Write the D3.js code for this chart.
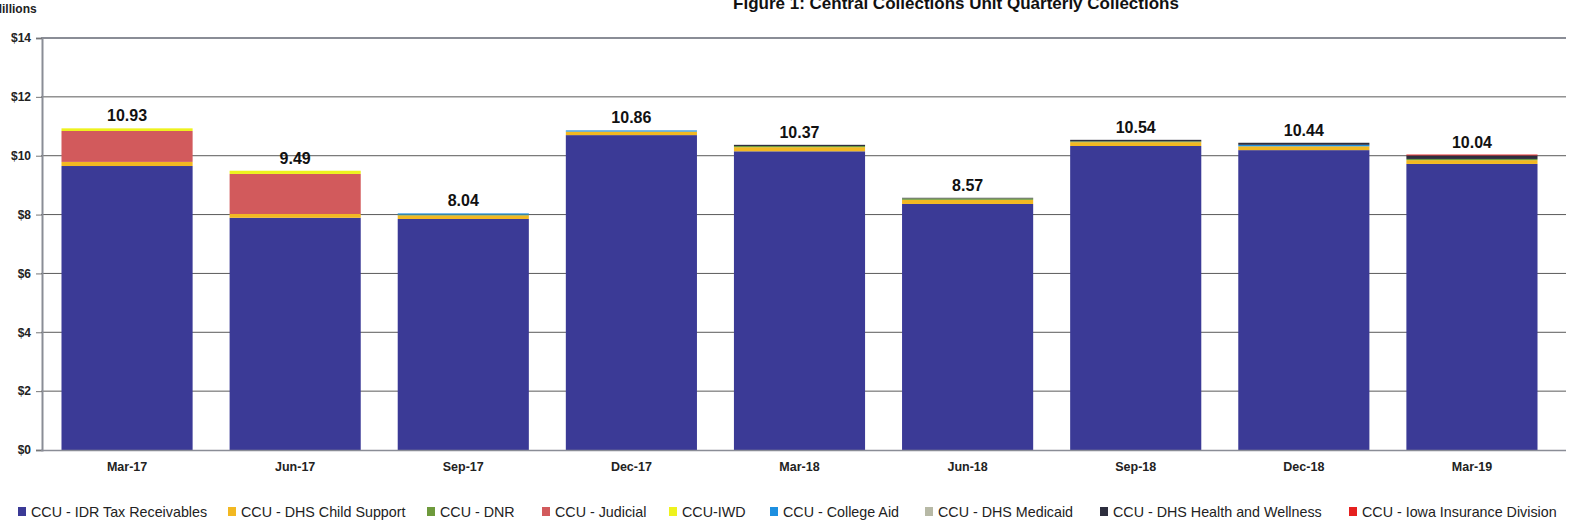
<!DOCTYPE html>
<html><head><meta charset="utf-8">
<script src="https://cdn.jsdelivr.net/npm/d3@7"></script>
<style>html,body{margin:0;padding:0;background:#fff;overflow:hidden}svg{display:block}</style>
</head><body>
<svg id="c" width="1574" height="527"></svg>
<script>
const categories = ["Mar-17","Jun-17","Sep-17","Dec-17","Mar-18","Jun-18","Sep-18","Dec-18","Mar-19"];
const seriesNames = ["CCU - IDR Tax Receivables","CCU - DHS Child Support","CCU - DNR","CCU - Judicial","CCU-IWD","CCU - College Aid","CCU - DHS Medicaid","CCU - DHS Health and Wellness","CCU - Iowa Insurance Division"];
const idrTax        = [9.65, 7.89, 7.85, 10.70, 10.15, 8.36, 10.33, 10.19, 9.72];
const childSupport  = [0.14, 0.13, 0.12, 0.12, 0.14, 0.14, 0.13, 0.13, 0.13];
const dnr           = [0.00, 0.00, 0.03, 0.00, 0.04, 0.05, 0.03, 0.00, 0.04];
const judicial      = [1.05, 1.36, 0.00, 0.00, 0.00, 0.00, 0.00, 0.00, 0.00];
const iwd           = [0.09, 0.11, 0.00, 0.00, 0.00, 0.00, 0.00, 0.00, 0.00];
const collegeAid    = [0.00, 0.00, 0.04, 0.04, 0.00, 0.00, 0.00, 0.05, 0.00];
const dhsMedicaid   = [0.00, 0.00, 0.00, 0.00, 0.00, 0.00, 0.00, 0.00, 0.00];
const healthWell    = [0.00, 0.00, 0.00, 0.00, 0.04, 0.02, 0.05, 0.07, 0.12];
const iowaInsurance = [0.00, 0.00, 0.00, 0.00, 0.00, 0.00, 0.00, 0.00, 0.03];
const totals        = [10.93, 9.49, 8.04, 10.86, 10.37, 8.57, 10.54, 10.44, 10.04];
const yTicks = [0,2,4,6,8,10,12,14];
const yTickLabels = ["$0","$2","$4","$6","$8","$10","$12","$14"];
const colors = ["#3b3a96","#f2b822","#6e9a3c","#d25a5c","#eef21e","#1d8fe0","#b7b9a6","#2d2e3e","#e5201f"];

const seriesValues = [idrTax, childSupport, dnr, judicial, iwd, collegeAid, dhsMedicaid, healthWell, iowaInsurance];
const table = categories.map((c,i)=>{const o={cat:c}; seriesNames.forEach((s,j)=>o[s]=seriesValues[j][i]); return o;});
const stacked = d3.stack().keys(seriesNames)(table);

const svg = d3.select("#c");
const x = d3.scaleBand().domain(categories).range([43,1556]).paddingInner(0.22).paddingOuter(0.11);
const y = d3.scaleLinear().domain([0,14]).range([450,38]);

// title (clipped at top as in the reference)
svg.append("text").attr("x",956).attr("y",9).attr("text-anchor","middle")
  .attr("font-family","Liberation Sans, Arial, sans-serif").attr("font-weight","bold").attr("font-size",17)
  .attr("fill","#111").text("Figure 1: Central Collections Unit Quarterly Collections");
svg.append("text").attr("x",-8).attr("y",13)
  .attr("font-family","Liberation Sans, Arial, sans-serif").attr("font-weight","bold").attr("font-size",12)
  .attr("fill","#222").text("Millions");

// gridlines
svg.append("g").selectAll("line").data(yTicks.filter(t=>t>0 && t<14)).join("line")
  .attr("x1",41).attr("x2",1566).attr("y1",d=>y(d)).attr("y2",d=>y(d))
  .attr("stroke","#5a5a5a").attr("stroke-width",1);
svg.append("line").attr("x1",41).attr("x2",1566).attr("y1",y(14)).attr("y2",y(14))
  .attr("stroke","#8a8d96").attr("stroke-width",2);

// y axis
const yAxis = d3.axisLeft(y).tickValues(yTicks).tickFormat((d,i)=>yTickLabels[i]).tickSize(6).tickPadding(5);
const gy = svg.append("g").attr("transform","translate(42,0)").call(yAxis);
gy.select(".domain").attr("stroke","#8a8d96").attr("stroke-width",2);
gy.selectAll(".tick line").attr("stroke","#777");
gy.selectAll("text").attr("font-family","Liberation Sans, Arial, sans-serif").attr("font-weight","bold").attr("font-size",12).attr("fill","#222");

// bars
svg.append("g").selectAll("g").data(stacked).join("g").attr("fill",(d,i)=>colors[i])
  .selectAll("rect").data(d=>d).join("rect")
  .attr("x",d=>x(d.data.cat)).attr("width",x.bandwidth())
  .attr("y",d=>y(d[1])).attr("height",d=>Math.max(0,y(d[0])-y(d[1])));

// x axis
const xAxis = d3.axisBottom(x).tickSize(0).tickPadding(12);
const gx = svg.append("g").attr("transform","translate(0,450)").call(xAxis);
gx.select(".domain").remove();
svg.append("line").attr("x1",41).attr("x2",1566).attr("y1",450.5).attr("y2",450.5).attr("stroke","#8a8d96").attr("stroke-width",1.5);
gx.selectAll("text").attr("font-family","Liberation Sans, Arial, sans-serif").attr("font-weight","bold").attr("font-size",12.5).attr("fill","#222");

// value labels
svg.append("g").selectAll("text").data(categories).join("text")
  .attr("x",d=>x(d)+x.bandwidth()/2).attr("y",(d,i)=>y(totals[i])-7).attr("text-anchor","middle")
  .attr("font-family","Liberation Sans, Arial, sans-serif").attr("font-weight","bold").attr("font-size",16).attr("fill","#111")
  .text((d,i)=>totals[i].toFixed(2));

// legend
const legendX = [18,228,427,542,669,770,925,1100,1349];
const lg = svg.append("g").selectAll("g").data(seriesNames).join("g")
  .attr("transform",(d,i)=>`translate(${legendX[i]},517)`);
lg.append("rect").attr("x",0).attr("y",-10).attr("width",8).attr("height",9).attr("fill",(d,i)=>colors[i]);
lg.append("text").attr("x",13).attr("y",0)
  .attr("font-family","Liberation Sans, Arial, sans-serif").attr("font-size",14.3).attr("fill","#222")
  .text(d=>d);
</script>
</body></html>
